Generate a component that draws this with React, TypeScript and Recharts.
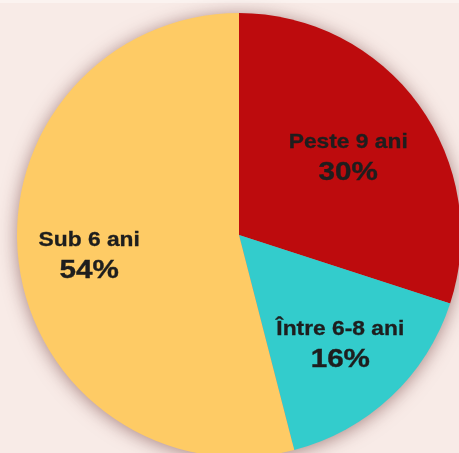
import React from "react";
import { PieChart, Pie, Cell } from "recharts";

const categories = ["Peste 9 ani", "Între 6-8 ani", "Sub 6 ani"];
const values = [30, 16, 54];
const percentLabels = ["30%", "16%", "54%"];

const colors = ["#bd0b0d", "#33cccc", "#fecb65"];
const labelRadius = [135, 148, 151];

const data = categories.map((name, i) => ({ name, value: values[i], pct: percentLabels[i] }));

const RAD = Math.PI / 180;

const renderLabel = (props: any) => {
  const { cx, cy, midAngle, index } = props;
  const r = labelRadius[index];
  const x = cx + r * Math.cos(-midAngle * RAD);
  const y = cy + r * Math.sin(-midAngle * RAD);
  return (
    <g transform={`translate(${x},${y}) scale(1.14,1)`}>
      <text
        x={0}
        y={-8}
        textAnchor="middle"
        fill="#1e1e1e"
        stroke="#1e1e1e"
        strokeWidth={0.3}
        fontFamily="'Liberation Sans', Arial, sans-serif"
        fontWeight="bold"
        fontSize={20}
      >
        {data[index].name}
      </text>
      <text
        x={0}
        y={24}
        textAnchor="middle"
        fill="#1e1e1e"
        stroke="#1e1e1e"
        strokeWidth={0.4}
        fontFamily="'Liberation Sans', Arial, sans-serif"
        fontWeight="bold"
        fontSize={26}
      >
        {data[index].pct}
      </text>
    </g>
  );
};

export default function App() {
  return (
    <div
      style={{
        position: "fixed",
        left: 0,
        top: 0,
        width: 459,
        height: 453,
        background: "#f8ebe7",
        overflow: "hidden",
      }}
    >
      <div style={{ position: "absolute", left: 0, top: 0, width: 459, height: 3, background: "#fbf3f0" }} />
      <div style={{ filter: "drop-shadow(0px 2px 9px rgba(90,30,30,0.5))" }}>
        <PieChart width={459} height={453} margin={{ top: 0, right: 0, bottom: 0, left: 0 }}>
          <Pie
            data={data}
            dataKey="value"
            nameKey="name"
            cx={239}
            cy={235}
            outerRadius={222}
            startAngle={90}
            endAngle={-270}
            stroke="none"
            isAnimationActive={false}
            labelLine={false}
            label={renderLabel}
          >
            {data.map((d, i) => (
              <Cell key={d.name} fill={colors[i]} />
            ))}
          </Pie>
        </PieChart>
      </div>
    </div>
  );
}
